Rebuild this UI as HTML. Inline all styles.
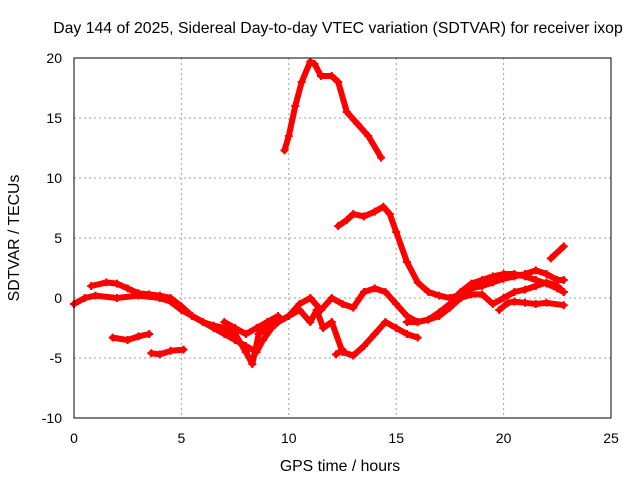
<!DOCTYPE html>
<html><head><meta charset="utf-8"><style>
body{margin:0;background:#fff;font-family:"Liberation Sans",sans-serif}
svg text{font-family:"Liberation Sans",sans-serif;font-size:14px;fill:#000}
svg text.big{font-size:15.8px}
</style></head><body>
<svg width="640" height="480" id="c">
<text class="big" x="338" y="33" text-anchor="middle">Day 144 of 2025, Sidereal Day-to-day VTEC variation (SDTVAR) for receiver ixop</text>
<text class="big" x="340" y="471" text-anchor="middle">GPS time / hours</text>
<text class="big" x="0" y="0" text-anchor="middle" transform="translate(19,238) rotate(-90)">SDTVAR / TECUs</text>
<g id="grid"></g><g id="ticks"></g><g id="marks"></g>
<rect x="74" y="58" width="537" height="360" fill="none" stroke="#000" stroke-width="1"/>
</svg>
<script>
const xTicks=[0,5,10,15,20,25];
const yTicks=[-10,-5,0,5,10,15,20];
const trackA=[[9.8,12.3],[10,13.5],[10.3,16],[10.6,18],[11,19.7],[11.2,19.5],[11.5,18.5],[12,18.5],[12.3,18],[12.7,15.5],[13.2,14.5],[13.7,13.5],[14.3,11.7]];
const trackB=[[12.3,6],[12.7,6.5],[13,7],[13.5,6.8],[14,7.2],[14.4,7.6],[14.7,7],[15,5.5],[15.5,3],[16,1.3],[16.5,0.5],[17,0.2],[17.5,0],[18,0.3],[18.5,0.8],[19,1],[19.5,1.3],[20,1.6],[20.5,1.8],[21,2],[21.5,2.3],[22,2],[22.5,1.5],[22.8,1.5]];
const trackC=[[0.8,1],[1.5,1.3],[2,1.2],[2.5,0.8],[3,0.4],[3.5,0.3],[4,0.2],[4.5,0],[5,-0.7],[5.5,-1.5],[6,-2],[6.5,-2.3],[7,-2.5],[7.5,-3],[8,-4.5],[8.3,-5.5],[8.6,-3],[9,-2.5],[9.5,-2],[10,-1.5],[10.5,-0.5],[11,0],[11.5,-1],[12,0],[12.5,-0.5],[13,-0.8],[13.5,0.5],[14,0.8],[14.5,0.5],[15,-0.5],[15.5,-1.5],[16,-2],[16.5,-1.8],[17,-1.2],[17.5,-0.5],[18,0.5],[18.5,1.2],[19,1.5],[19.5,1.8],[20,2],[20.5,2],[21,1.8],[21.5,1.5],[22,1.2],[22.5,0.8],[22.8,0.5]];
const trackD=[[0,-0.5],[0.5,0],[1,0.2],[2,0],[3,0.2],[4,0],[4.5,-0.3],[5,-1],[5.5,-1.5],[6,-2],[6.5,-2.5],[7,-3],[7.5,-3.5],[8,-4],[8.5,-4.5],[8.8,-3.5],[9.2,-2.5],[9.5,-2],[10,-1.5],[10.5,-1],[11,-2],[11.3,-1],[11.6,-2.5],[12,-2],[12.5,-4.5],[13,-4.8],[13.5,-4],[14,-3],[14.5,-2],[15,-2.5],[15.5,-3],[16,-3.3]];
const trackE=[[15.5,-2],[16,-2],[16.5,-1.8],[17,-1.5],[17.5,-0.8],[18,0],[18.5,0.3],[19,0.3],[19.5,-0.5],[20,0],[20.5,0.5],[21,0.7],[21.5,1],[22,1.3],[22.5,1],[22.8,0.5]];
const trackF=[[19.8,-1],[20.2,-0.4],[20.5,-0.3],[21,-0.4],[21.5,-0.5],[22,-0.4],[22.8,-0.6]];
const trackG=[[1.8,-3.3],[2.5,-3.5],[3,-3.2],[3.5,-3.0]];
const trackH=[[3.6,-4.6],[4,-4.7],[4.5,-4.4],[5.1,-4.3]];
const trackI=[[7,-2],[7.5,-2.5],[8,-3],[8.5,-2.5],[9,-2],[9.5,-1.5]];
const trackJ=[[22.2,3.3],[22.8,4.3]];
const trackK=[[12.2,-4.7],[12.5,-4.3]];
const tracks=[trackA,trackB,trackC,trackD,trackE,trackF,trackG,trackH,trackI,trackJ,trackK];
const X=v=>74+v*537/25, Y=v=>418-(v+10)*12;
const NS='http://www.w3.org/2000/svg';
const grid=document.getElementById('grid'),ticks=document.getElementById('ticks'),marks=document.getElementById('marks');
function mk(tag,attrs,parent){const e=document.createElementNS(NS,tag);for(const k in attrs)e.setAttribute(k,attrs[k]);parent.appendChild(e);return e;}
xTicks.forEach(t=>{
 if(t>0&&t<25){const g=mk('line',{x1:X(t),x2:X(t),y1:58,y2:418,stroke:'#a0a0a0','stroke-dasharray':'2,3'},grid);
 
 }
 const l=mk('text',{x:X(t),y:443,'text-anchor':'middle'},ticks);l.textContent=t;
 
 
});
yTicks.forEach(t=>{
 if(t>-10&&t<20){const g=mk('line',{x1:74,x2:611,y1:Y(t),y2:Y(t),stroke:'#a0a0a0','stroke-dasharray':'2,3'},grid);
 
 }
 const l=mk('text',{x:62,y:Y(t)+5,'text-anchor':'end'},ticks);l.textContent=t;
 
 
});
tracks.forEach(tr=>{
 const p=mk('polyline',{points:tr.map(d=>X(d[0])+','+Y(d[1])).join(' '),fill:'none',stroke:'#ff0000','stroke-width':6,'stroke-linejoin':'round','stroke-linecap':'round'},marks);
 
 
 tr.forEach(d=>{const m=mk('path',{d:`M${X(d[0])-4},${Y(d[1])}h8M${X(d[0])},${Y(d[1])-4}v8`,stroke:'#ff0000','stroke-width':2},marks);
 
 });
});
</script>
</body></html>
